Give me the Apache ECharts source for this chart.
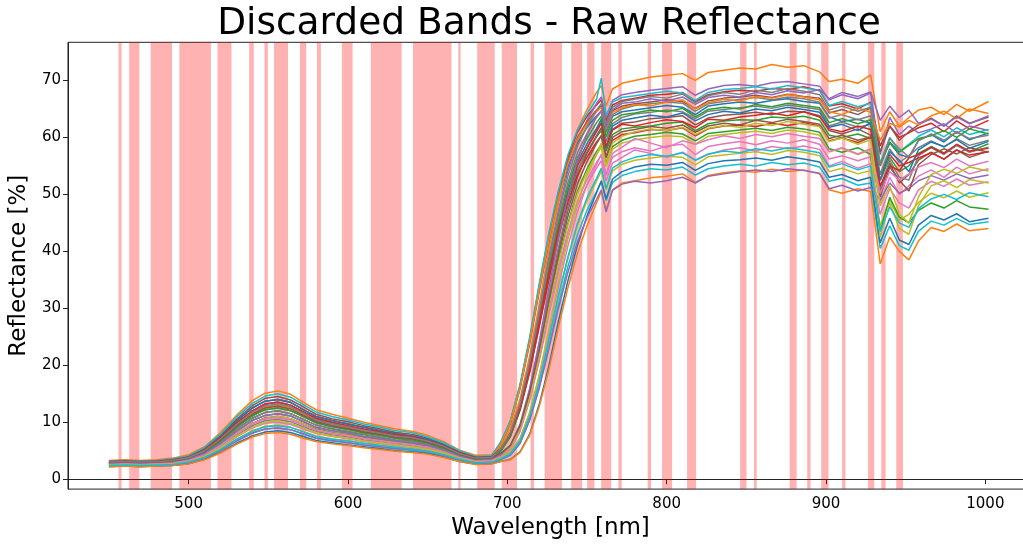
<!DOCTYPE html>
<html>
<head>
<meta charset="utf-8">
<script src="https://cdn.jsdelivr.net/npm/echarts@6/dist/echarts.min.js"></script>
<style>
html,body{margin:0;padding:0;background:#fff;overflow:hidden;width:1023px;height:545px;}
#chart{width:1033px;height:545px;}
</style>
</head>
<body>
<div id="chart"></div>
<script>
// Wavelengths [nm] shared by every spectrum
const wavelengths = [450,460,470,480,490,500,510,520,530,540,548,556,564,572,580,590,600,610,620,630,640,650,660,670,680,690,
  696,702,708,714,720,726,732,738,744,750,756,759,762,766,772,
  780,790,800,810,818,826,836,846,856,866,876,886,896,902,910,920,928,
  934,940,946,952,958,966,974,982,990,1002];

// Discarded band edges [nm]
const bandStart = [456.0,462.7,476.2,494.2,518.1,538.0,547.6,553.6,569.9,580.5,596.2,614.3,640.8,669.2,681.1,696.5,714.6,723.4,740.1,750.1,758.9,769.7,788.1,797.1,812.8,846.1,854.8,877.2,888.2,897.0,910.1,926.4,934.7,944.1];
const bandEnd   = [457.9,469.1,489.6,514.0,526.9,540.9,549.7,562.4,573.8,583.0,602.9,633.7,665.0,670.7,692.1,706.1,716.8,734.3,747.0,754.7,765.2,771.8,790.2,803.4,818.5,850.1,856.5,881.6,890.3,901.6,912.2,930.3,937.4,948.3];

// Reflectance spectra [%]
const r01 = [2.8,2.9,2.8,2.9,3.1,3.7,4.9,7.1,9.8,12.0,13.2,13.5,13.0,11.8,10.6,9.9,9.3,8.7,8.2,7.6,7.3,6.7,5.7,4.4,3.5,3.7,
  6.1,9.8,15.9,23.8,32.9,41.4,48.7,54.8,59.0,61.8,63.8,64.6,60.9,63.7,64.5,
  64.8,65.2,65.6,65.3,64.0,65.5,65.9,66.2,66.0,66.5,66.8,66.3,66.0,63.6,62.8,63.2,62.5,
  55.5,59.0,57.0,56.5,59.5,60.5,59.2,61.0,59.6,60.8];
const r02 = [3.3,3.4,3.3,3.4,3.7,4.3,5.7,8.2,11.2,13.8,15.1,15.5,14.9,13.5,12.2,11.4,10.7,10.0,9.4,8.8,8.4,7.7,6.6,5.1,4.2,4.3,
  5.9,8.9,14.1,21.6,30.7,40.2,48.6,55.8,61.4,64.9,67.9,69.1,65.5,68.5,69.5,
  70.0,70.6,70.9,71.2,70.0,71.4,71.8,72.2,72.0,72.8,72.3,72.6,71.5,69.8,70.2,69.5,71.0,
  61.0,64.5,62.0,63.5,64.8,65.3,64.0,65.8,64.6,66.3];
const r03 = [2.6,2.7,2.6,2.7,2.9,3.4,4.5,6.4,8.7,10.7,11.7,12.0,11.5,10.5,9.5,8.8,8.3,7.8,7.3,6.8,6.5,6.0,5.1,4.0,3.3,3.4,
  4.9,7.5,12.1,18.8,26.9,35.4,42.9,49.3,54.2,57.4,60.1,61.2,57.6,60.5,61.5,
  61.8,62.0,62.5,62.7,61.2,62.4,62.9,63.1,63.0,63.6,63.4,63.7,63.0,60.4,60.0,60.6,59.8,
  52.5,56.5,54.0,55.0,57.2,58.4,57.3,58.6,57.5,58.9];
const r04 = [3.0,3.1,3.0,3.1,3.3,3.9,5.2,7.4,10.2,12.5,13.7,14.0,13.5,12.2,11.0,10.3,9.7,9.1,8.5,8.0,7.6,7.0,6.0,4.7,3.8,3.9,
  6.4,10.2,16.4,24.6,33.9,42.7,50.2,56.5,60.9,63.7,65.7,66.6,62.9,65.7,66.5,
  66.9,67.4,67.6,67.9,66.3,67.5,68.0,68.3,68.1,68.6,68.4,68.9,68.2,65.5,65.9,65.0,66.2,
  58.5,62.0,60.0,60.8,61.7,62.5,61.0,62.9,61.5,63.0];
const r05 = [2.9,3.0,2.9,3.0,3.2,3.7,4.8,6.7,9.1,11.2,12.2,12.5,12.0,11.0,9.9,9.2,8.8,8.2,7.7,7.2,6.9,6.4,5.5,4.3,3.6,3.7,
  5.3,8.2,13.3,20.6,29.5,38.8,47.1,54.1,59.5,63.0,66.0,67.1,63.5,66.5,67.5,
  67.9,68.3,68.6,68.9,67.4,68.5,69.1,69.3,69.0,69.6,69.8,69.4,69.0,66.6,67.5,66.8,67.8,
  57.0,63.5,60.5,62.0,60.8,61.5,62.4,60.7,62.0,61.2];
const r06 = [2.7,2.8,2.7,2.8,3.0,3.4,4.4,6.0,8.1,9.8,10.8,11.0,10.6,9.7,8.8,8.2,7.8,7.3,6.9,6.4,6.2,5.7,4.9,3.9,3.3,3.4,
  4.3,5.8,9.3,15.2,22.9,31.8,40.0,47.1,53.0,57.2,60.3,61.7,58.3,61.4,62.5,
  62.7,63.3,63.5,63.8,62.2,63.4,63.9,64.1,64.4,64.0,64.6,64.5,63.8,61.2,60.6,61.5,60.4,
  50.5,55.5,52.0,53.5,56.0,57.4,56.2,57.8,56.5,57.6];
const r07 = [2.5,2.6,2.5,2.6,2.7,3.1,4.0,5.5,7.4,9.0,9.8,10.0,9.6,8.8,8.0,7.5,7.1,6.6,6.3,5.9,5.7,5.2,4.5,3.6,3.0,3.1,
  3.9,5.3,8.5,14.0,21.1,29.2,36.8,43.4,48.8,52.6,55.6,56.9,53.4,56.5,57.5,
  58.2,57.6,58.5,58.8,57.0,58.4,58.9,59.3,58.7,59.4,59.0,59.6,58.8,56.2,56.8,55.9,56.6,
  48.5,53.0,50.0,51.5,53.2,54.3,53.0,54.8,53.6,54.5];
const r08 = [2.6,2.7,2.6,2.7,2.8,3.2,4.2,5.8,7.7,9.4,10.3,10.5,10.1,9.2,8.4,7.8,7.4,6.9,6.6,6.2,5.9,5.4,4.7,3.8,3.2,3.2,
  4.1,5.6,9.2,15.3,23.1,32.1,40.6,47.8,53.9,58.1,61.3,62.7,59.3,62.4,63.5,
  64.1,64.4,64.8,64.5,63.3,64.6,64.9,65.2,65.5,65.1,65.7,65.3,64.9,62.0,62.7,61.8,62.3,
  51.0,56.0,53.0,52.5,56.8,58.2,57.0,58.6,57.4,58.3];
const r09 = [2.4,2.5,2.4,2.5,2.6,3.0,3.8,5.2,7.0,8.5,9.3,9.5,9.1,8.4,7.6,7.1,6.7,6.3,6.0,5.6,5.4,5.0,4.3,3.5,2.9,3.0,
  3.6,4.5,6.7,10.9,16.9,24.3,31.9,38.7,44.5,48.9,52.3,54.1,50.8,54.1,55.3,
  56.0,56.4,56.7,56.5,55.2,56.6,56.9,57.2,57.5,57.0,57.7,57.4,56.8,54.0,54.6,53.6,54.2,
  44.5,49.0,45.5,46.5,48.6,50.2,49.4,50.6,49.5,50.3];
const r10 = [2.3,2.4,2.3,2.4,2.5,2.8,3.6,5.0,6.7,8.1,8.8,9.0,8.7,7.9,7.2,6.7,6.4,6.0,5.7,5.3,5.1,4.7,4.1,3.3,2.8,2.8,
  3.4,4.2,6.3,10.4,16.2,23.3,30.7,37.3,42.9,47.2,50.5,52.2,48.9,52.1,53.3,
  54.0,54.5,54.3,54.8,53.4,54.5,55.0,55.3,55.0,55.6,55.2,55.5,54.8,52.3,52.8,51.6,52.0,
  40.5,44.5,41.0,40.2,43.5,45.3,44.6,45.8,44.7,45.2];
const r11 = [2.2,2.3,2.2,2.3,2.4,2.7,3.5,4.7,6.3,7.6,8.3,8.5,8.2,7.5,6.8,6.4,6.0,5.7,5.4,5.0,4.8,4.5,3.9,3.1,2.6,2.7,
  3.1,3.5,4.8,7.9,13.1,19.8,27.6,34.8,41.0,46.2,50.3,52.4,49.2,52.7,54.0,
  54.8,55.3,55.1,55.6,54.2,55.4,55.9,56.1,56.4,56.0,56.6,56.2,55.7,53.0,53.5,52.4,53.0,
  41.5,45.8,42.0,41.2,44.6,46.3,45.5,46.6,45.2,45.8];
const r12 = [2.2,2.3,2.2,2.3,2.4,2.7,3.4,4.6,6.1,7.4,8.0,8.2,7.9,7.2,6.6,6.2,5.9,5.5,5.2,4.9,4.7,4.4,3.8,3.1,2.6,2.7,
  3.1,3.4,4.7,7.7,12.7,19.1,26.6,33.6,39.6,44.5,48.5,50.5,47.3,50.8,52.0,
  52.4,52.9,53.2,53.6,52.1,53.3,53.8,54.1,53.9,54.4,54.0,54.3,53.6,50.8,50.2,51.0,50.5,
  37.8,42.5,40.0,38.5,41.8,44.2,43.5,44.8,43.6,44.0];
const r13 = [2.7,2.8,2.7,2.8,3.0,3.4,4.5,6.2,8.4,10.3,11.2,11.5,11.1,10.1,9.1,8.5,8.1,7.5,7.1,6.7,6.4,5.9,5.1,4.0,3.3,3.4,
  4.2,5.6,9.0,14.6,21.9,30.3,38.2,44.9,50.5,54.5,57.5,58.8,55.4,58.4,59.5,
  60.2,60.5,60.9,60.6,59.4,60.7,61.0,61.3,61.6,61.2,61.8,61.5,60.9,58.0,57.4,58.2,57.0,
  43.5,49.5,46.0,45.0,47.2,48.5,47.6,48.9,47.8,47.4];
const r14 = [2.9,3.0,2.9,3.0,3.2,3.7,4.9,6.9,9.5,11.6,12.7,13.0,12.5,11.4,10.3,9.6,9.1,8.5,8.0,7.4,7.1,6.5,5.6,4.4,3.6,3.7,
  5.1,7.7,12.2,18.8,26.7,34.9,42.3,48.6,53.4,56.5,59.2,60.3,56.6,59.5,60.5,
  60.8,61.4,61.2,61.7,60.3,61.5,62.0,62.2,61.9,62.5,62.1,62.6,62.0,59.4,59.9,59.1,60.0,
  53.5,57.0,55.0,55.6,56.4,57.3,56.2,57.8,56.9,57.5];
const r15 = [2.4,2.5,2.4,2.5,2.6,2.9,3.7,5.0,6.7,8.1,8.8,9.0,8.7,8.0,7.2,6.8,6.4,6.0,5.7,5.4,5.2,4.8,4.2,3.4,2.9,2.9,
  3.5,4.3,6.3,10.3,15.9,22.8,29.9,36.3,41.7,45.9,49.1,50.8,46.9,50.7,51.8,
  52.3,52.0,52.4,53.0,52.0,53.2,53.6,54.0,54.3,54.0,54.5,54.2,53.7,51.0,51.6,50.6,51.2,
  49.0,52.0,50.2,51.0,52.4,53.3,52.5,53.6,52.8,53.4];
const r16 = [3.1,3.2,3.1,3.2,3.4,4.0,5.4,7.7,10.5,12.9,14.2,14.5,13.9,12.7,11.4,10.6,10.1,9.4,8.8,8.2,7.9,7.2,6.2,4.8,3.9,4.0,
  6.5,10.2,16.3,24.3,33.5,42.1,49.5,55.7,60.0,62.7,64.8,65.6,61.9,64.7,65.5,
  65.9,66.2,66.6,66.3,65.1,66.4,66.9,67.1,67.4,67.0,67.6,67.2,66.9,64.3,64.9,64.0,65.2,
  57.5,62.0,59.5,61.0,62.2,63.4,62.0,63.8,62.5,63.6];
const r17 = [2.6,2.6,2.5,2.6,2.8,3.2,4.0,5.6,7.5,9.1,9.9,10.1,9.7,8.9,8.1,7.6,7.2,6.7,6.3,5.9,5.6,5.2,4.5,3.6,3.1,3.1,
  3.9,5.2,8.4,13.8,20.7,28.7,36.2,42.6,48.0,51.7,54.6,55.9,52.4,55.5,56.5,
  57.8,57.2,56.5,57.4,56.0,57.0,57.8,58.2,57.6,58.4,58.0,58.5,57.9,55.0,55.8,54.6,55.4,
  46.5,51.0,48.5,47.6,50.8,52.3,51.4,52.7,51.6,52.2];
const r18 = [2.8,2.9,2.8,2.9,3.1,3.5,4.6,6.5,8.8,10.7,11.7,12.0,11.5,10.5,9.5,8.9,8.4,7.9,7.4,6.9,6.7,6.1,5.3,4.2,3.4,3.5,
  5.0,7.8,12.7,19.8,28.4,37.3,45.3,52.1,57.3,60.7,63.5,64.6,61.1,64.0,65.0,
  65.6,65.9,66.2,66.0,64.6,65.9,66.3,66.7,67.0,66.6,67.1,66.8,66.2,63.4,64.0,63.1,63.8,
  53.5,58.0,55.6,56.8,58.2,59.4,58.3,59.8,58.6,59.5];
const r19 = [2.6,2.7,2.6,2.7,2.9,3.3,4.3,6.0,8.1,9.8,10.7,11.0,10.6,9.7,8.7,8.1,7.7,7.2,6.8,6.4,6.1,5.6,4.9,3.9,3.2,3.3,
  4.1,5.5,8.9,14.4,21.7,30.0,37.8,44.5,50.1,54.0,57.0,58.3,54.9,57.9,59.0,
  59.6,60.0,60.3,60.1,58.8,60.2,60.5,60.8,61.1,60.7,61.3,61.0,60.4,57.5,58.1,57.0,57.8,
  42.5,48.5,44.0,43.0,48.0,51.5,52.4,51.2,52.6,52.0];
const r20 = [3.2,3.3,3.2,3.3,3.6,4.1,5.6,7.9,10.9,13.3,14.6,15.0,14.4,13.1,11.8,11.0,10.4,9.7,9.1,8.5,8.2,7.4,6.4,5.0,4.0,4.1,
  6.6,10.4,16.7,24.9,34.3,43.1,50.6,56.9,61.3,64.2,66.7,70.4,63.9,66.2,67.0,
  67.3,67.7,68.1,67.8,66.5,67.9,68.4,68.6,68.9,68.5,69.1,68.7,68.3,65.6,66.3,65.4,66.0,
  55.5,60.0,57.5,58.8,60.2,61.3,60.1,61.7,60.5,61.4];
const r21 = [3.0,3.1,3.0,3.1,3.3,3.9,5.2,7.4,10.2,12.5,13.7,14.0,13.5,12.2,11.0,10.3,9.7,9.1,8.5,8.0,7.6,7.0,6.0,4.7,3.8,3.9,
  5.4,8.0,12.8,19.6,27.8,36.4,44.1,50.6,55.6,58.9,61.6,63.2,58.1,62.0,63.0,
  63.4,63.9,63.6,64.3,62.9,64.0,64.6,64.3,65.0,64.7,65.3,64.9,64.4,61.8,62.3,61.2,62.6,
  52.5,57.5,56.0,54.0,57.8,59.2,58.4,59.6,58.1,59.3];
const r22 = [2.9,3.0,2.9,3.0,3.2,3.7,4.9,6.9,9.5,11.6,12.7,13.0,12.5,11.4,10.3,9.6,9.1,8.5,8.0,7.4,7.1,6.5,5.6,4.4,3.6,3.7,
  6.2,9.9,16.0,24.0,33.2,41.8,49.2,55.4,59.7,62.4,64.5,65.3,61.6,64.4,65.2,
  65.8,65.5,66.2,66.6,65.0,66.1,66.7,66.4,67.2,66.9,67.5,67.1,66.6,64.5,64.0,65.2,64.4,
  59.5,62.5,61.8,63.0,62.2,63.8,64.6,63.3,65.0,64.2];
const r23 = [2.8,2.9,2.8,2.9,3.1,3.6,4.7,6.7,9.1,11.1,12.2,12.5,12.0,11.0,9.9,9.2,8.7,8.1,7.7,7.2,6.9,6.3,5.4,4.3,3.5,3.6,
  5.1,7.8,12.7,19.6,28.1,36.8,44.7,51.3,56.4,59.8,62.6,63.7,60.1,63.0,64.0,
  64.3,64.8,64.5,65.1,63.6,64.9,65.3,65.0,65.8,65.4,66.0,65.6,65.2,62.6,63.3,62.4,63.1,
  55.0,59.2,57.4,58.6,59.8,60.3,61.2,60.0,61.5,60.6];
const r24 = [3.1,3.2,3.1,3.2,3.4,3.9,5.2,7.3,9.9,12.0,13.2,13.5,13.0,11.8,10.7,10.0,9.4,8.8,8.3,7.8,7.5,6.8,5.9,4.7,3.8,3.9,
  5.4,8.0,12.7,19.4,27.6,36.0,43.6,50.0,55.0,58.2,61.0,62.5,58.4,61.3,62.3,
  62.0,62.6,63.1,62.8,61.7,63.2,63.0,63.6,63.9,64.3,63.8,64.5,63.6,61.5,61.0,62.0,61.4,
  51.5,55.0,54.2,56.4,57.0,58.3,57.2,58.8,57.6,58.1];
const r25 = [2.7,2.8,2.7,2.8,3.0,3.4,4.5,6.2,8.4,10.3,11.2,11.5,11.1,10.1,9.1,8.5,8.1,7.5,7.1,6.7,6.4,5.9,5.1,4.0,3.3,3.4,
  4.3,5.9,9.7,15.9,24.1,33.4,42.2,49.7,56.0,60.4,63.7,64.7,61.7,64.9,66.0,
  66.2,66.8,66.4,67.1,65.8,67.0,67.4,67.1,67.9,67.5,68.2,67.8,68.4,66.8,67.9,67.2,68.0,
  63.0,65.5,63.5,64.8,62.5,63.2,62.0,63.6,62.4,63.8];
const r26 = [2.9,3.0,2.9,3.0,3.2,3.7,4.9,6.9,9.3,11.4,12.5,12.8,12.3,11.2,10.1,9.4,8.9,8.3,7.9,7.4,7.1,6.5,5.6,4.4,3.6,3.7,
  4.6,6.0,9.4,15.2,22.6,31.2,39.2,46.1,51.8,55.8,58.9,60.3,56.4,60.0,61.0,
  61.4,61.9,61.6,62.2,60.9,62.0,62.5,62.2,63.0,62.6,63.2,62.8,62.3,59.8,60.4,59.5,60.1,
  49.5,54.8,52.5,50.6,55.2,57.0,58.0,57.1,58.2,57.4];
const r27 = [2.6,2.7,2.6,2.7,2.8,3.3,4.2,5.9,7.9,9.7,10.6,10.8,10.4,9.5,8.6,8.0,7.6,7.1,6.7,6.3,6.0,5.6,4.8,3.8,3.2,3.3,
  4.0,4.8,7.2,11.6,18.0,25.7,33.7,40.9,47.0,51.7,55.2,57.1,53.3,57.2,58.3,
  59.8,59.0,58.2,59.4,58.8,59.6,60.3,59.8,60.5,60.1,60.7,60.2,59.8,57.5,58.2,57.1,58.0,
  50.2,54.0,52.5,53.6,54.8,55.6,54.7,56.2,55.0,55.8];
const r28 = [3.0,3.1,3.0,3.1,3.3,3.8,5.0,7.1,9.6,11.8,12.9,13.2,12.7,11.6,10.4,9.7,9.2,8.6,8.1,7.6,7.3,6.7,5.8,4.5,3.7,3.8,
  5.4,8.2,13.2,20.4,29.1,38.2,46.3,53.2,58.5,61.9,64.8,65.9,62.4,65.3,66.3,
  66.7,67.2,66.9,67.6,66.1,67.3,67.9,67.6,68.3,67.9,68.6,68.1,67.5,64.8,65.5,64.6,65.3,
  55.2,59.8,58.0,56.6,59.4,60.6,59.5,61.0,59.8,60.4];
const r29 = [2.5,2.6,2.5,2.6,2.7,3.1,4.0,5.6,7.5,9.1,10.0,10.2,9.8,9.0,8.1,7.6,7.2,6.7,6.4,6.0,5.7,5.3,4.6,3.7,3.0,3.1,
  3.8,4.7,7.1,11.7,18.3,26.3,34.7,42.1,48.4,53.3,57.0,59.0,55.1,59.0,60.2,
  61.0,61.5,61.2,61.8,60.5,61.6,62.1,61.8,62.5,62.1,62.8,62.3,61.9,59.3,59.9,58.8,59.6,
  48.0,51.5,46.5,45.0,49.5,53.5,54.4,53.7,54.8,54.1];
const r30 = [2.4,2.5,2.4,2.5,2.6,3.0,3.8,5.2,7.0,8.4,9.2,9.4,9.1,8.3,7.5,7.0,6.7,6.3,5.9,5.6,5.3,4.9,4.3,3.5,2.9,3.0,
  3.6,4.5,6.7,11.0,17.0,24.5,32.2,39.0,44.9,49.4,52.8,54.6,51.0,54.6,55.7,
  56.5,57.0,56.7,57.3,56.0,57.1,57.6,57.3,58.0,57.6,58.2,57.8,57.3,54.8,55.4,54.3,55.0,
  43.5,47.8,45.0,44.2,47.5,49.2,50.0,49.1,50.3,49.6];

const spectra = [r01,r02,r03,r04,r05,r06,r07,r08,r09,r10,r11,r12,r13,r14,r15,r16,r17,r18,r19,r20,
                 r21,r22,r23,r24,r25,r26,r27,r28,r29,r30];
const xTicks = [500,600,700,800,900,1000];
const yTicks = [0,10,20,30,40,50,60,70];

const tab10 = ['#1f77b4','#ff7f0e','#2ca02c','#d62728','#9467bd','#8c564b','#e377c2','#7f7f7f','#bcbd22','#17becf'];
const FONT = 'DejaVu Sans';

const series = [];
series.push({
  type: 'line', data: [], silent: true, z: 1,
  markArea: {
    silent: true,
    itemStyle: { color: 'rgba(255,0,0,0.3)' },
    data: bandStart.map((s, i) => [{ xAxis: s }, { xAxis: bandEnd[i] }])
  }
});
spectra.forEach((vals, k) => {
  series.push({
    type: 'line',
    data: wavelengths.map((w, i) => [w, vals[i]]),
    showSymbol: false,
    symbol: 'none',
    z: 2 + k,
    lineStyle: { width: 1.5, color: tab10[k % 10] },
    itemStyle: { color: tab10[k % 10] },
    emphasis: { disabled: true }
  });
});

const chart = echarts.init(document.getElementById('chart'), null, { renderer: 'canvas' });
chart.setOption({
  animation: false,
  backgroundColor: '#fff',
  graphic: [{
    type: 'text',
    x: 549, y: 24,
    style: {
      text: 'Discarded Bands - Raw Reflectance',
      fontFamily: FONT, fontSize: 37.5, fill: '#000',
      textAlign: 'center', textVerticalAlign: 'middle'
    }
  }],
  grid: { left: 65.3, right: 0, top: 42.3, bottom: 51, show: true, borderColor: '#222', borderWidth: 1 },
  xAxis: {
    type: 'value',
    min: 424.3, max: 1029.9,
    name: 'Wavelength [nm]',
    nameLocation: 'middle',
    nameGap: 19,
    nameTextStyle: { fontFamily: FONT, fontSize: 23, color: '#000', verticalAlign: 'top' },
    axisLine: { show: true, lineStyle: { color: '#222', width: 1 } },
    axisTick: { show: true, customValues: xTicks, length: 5, lineStyle: { color: '#222' } },
    axisLabel: { customValues: xTicks, formatter: v => String(v), fontFamily: FONT, fontSize: 15, color: '#000', margin: 8 },
    splitLine: { show: false }
  },
  yAxis: {
    type: 'value',
    min: -1.74, max: 76.7,
    name: 'Reflectance [%]',
    nameLocation: 'middle',
    nameGap: 31,
    nameRotate: 90,
    nameTextStyle: { fontFamily: FONT, fontSize: 23, color: '#000' },
    axisLine: { show: true, lineStyle: { color: '#222', width: 1 } },
    axisTick: { show: true, customValues: yTicks, length: 5, lineStyle: { color: '#222' } },
    axisLabel: { customValues: yTicks, formatter: v => String(v), fontFamily: FONT, fontSize: 15, color: '#000', margin: 7 },
    splitLine: { show: false }
  },
  series: series
});
</script>
</body>
</html>
